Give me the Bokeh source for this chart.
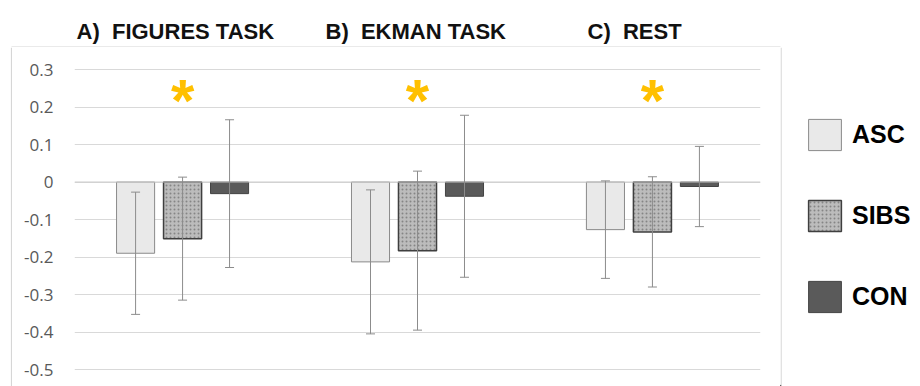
from bokeh.plotting import figure
from bokeh.layouts import column, row
from bokeh.models import (FactorRange, Range1d, Whisker, ColumnDataSource, FixedTicker,
                          Legend, LegendItem, Span, TeeHead)
from bokeh.core.properties import value
from bokeh.embed import file_html
from bokeh.resources import INLINE

# Conditions (panels) and participant groups
panels = ["A", "B", "C"]
panel_titles = ["A)\u00a0 FIGURES TASK", "B)\u00a0 EKMAN TASK", "C)\u00a0 REST"]
groups = ["ASC", "SIBS", "CON"]

# Group means and error-bar half widths per condition
asc_mean = [-0.19, -0.213, -0.127]
asc_err = [0.163, 0.192, 0.13]
sibs_mean = [-0.151, -0.183, -0.133]
sibs_err = [0.164, 0.212, 0.147]
con_mean = [-0.031, -0.038, -0.012]
con_err = [0.197, 0.216, 0.107]

# Conditions with a significant group difference
significant = ["A", "B", "C"]

y_ticks = [-0.5, -0.4, -0.3, -0.2, -0.1, 0, 0.1, 0.2, 0.3]
y_tick_labels = ["-0.5", "-0.4", "-0.3", "-0.2", "-0.1", "0", "0.1", "0.2", "0.3"]

FRAME_GREY = "#d6d6d6"
TITLE_FONT = "Liberation Sans"


def bare(width, height, xr, yr):
    """A figure whose drawing area fills the whole canvas, with no axes or grid."""
    f = figure(width=width, height=height, output_backend="svg", toolbar_location=None,
               x_range=xr, y_range=yr, x_axis_location=None, y_axis_location=None,
               min_border=0)
    f.grid.visible = False
    f.outline_line_color = None
    f.background_fill_color = "white"
    f.border_fill_color = "white"
    return f


# --- header strip with the condition titles and the top edge of the chart box ---
head = bare(920, 47, Range1d(0, 920), Range1d(47, 0))
head.text(x=[76, 325, 587], y=[31, 31, 31], text=panel_titles,
          text_font=value(TITLE_FONT), text_font_style="bold", text_font_size="22px",
          text_color="#111111", text_baseline="alphabetic", text_align="left")
head.segment(x0=[11], y0=[46.5], x1=[780], y1=[46.5], line_color=FRAME_GREY, line_width=1.2)

# --- left edge of the chart box ---
edge = bare(12, 339, Range1d(0, 12), Range1d(0, 339))
edge.segment(x0=[11], y0=[0], x1=[11], y1=[339], line_color=FRAME_GREY, line_width=1.2)

# --- main bar chart ---
factors = [(pn, g) for pn in panels for g in groups]
p = figure(width=768, height=339, output_backend="svg", toolbar_location=None,
           x_range=FactorRange(*factors, factor_padding=0.0, group_padding=2.0,
                               range_padding=0.8, range_padding_units="absolute"),
           y_range=Range1d(-0.5453, 0.3587),
           x_axis_location=None,
           min_border_left=62, min_border_right=20, min_border_top=0, min_border_bottom=0)
p.outline_line_color = None
p.background_fill_color = "white"
p.border_fill_color = "white"
p.xgrid.visible = False
p.ygrid.grid_line_color = "#d9d9d9"
p.ygrid.grid_line_width = 1
p.ygrid.ticker = FixedTicker(ticks=y_ticks)

ax = p.yaxis[0]
ax.ticker = FixedTicker(ticks=y_ticks)
ax.major_label_overrides = dict(zip(y_ticks, y_tick_labels))
ax.axis_line_color = None
ax.major_tick_line_color = None
ax.minor_tick_line_color = None
ax.major_tick_out = 0
ax.major_tick_in = 0
ax.major_label_standoff = 21
ax.major_label_text_font = "Open Sans"
ax.major_label_text_font_size = "17px"
ax.major_label_text_color = "#595959"

p.add_layout(Span(location=0, dimension="width", line_color="#cccccc", line_width=1))

bar_width = 0.81
styles = {
    "ASC": dict(fill_color="#e9e9e9", line_color="#8a8a8a", line_width=1),
    "SIBS": dict(fill_color="#bcbcbc", line_color="#3f3f3f", line_width=1.5,
                 hatch_pattern="dot", hatch_color="#858585", hatch_scale=4, hatch_weight=1.2),
    "CON": dict(fill_color="#5a5a5a", line_color="#444444", line_width=1),
}
series = [("ASC", asc_mean, asc_err), ("SIBS", sibs_mean, sibs_err), ("CON", con_mean, con_err)]

for name, means, errs in series:
    src = ColumnDataSource(dict(
        x=[(pn, name) for pn in panels], top=means, bottom=[0] * len(means),
        upper=[m + e for m, e in zip(means, errs)],
        lower=[m - e for m, e in zip(means, errs)],
    ))
    p.vbar(x="x", top="top", bottom="bottom", width=bar_width, source=src, **styles[name])
    p.add_layout(Whisker(base="x", upper="upper", lower="lower", source=src,
                         line_color="#8c8c8c", line_width=1, level="overlay",
                         upper_head=TeeHead(size=9, line_color="#8c8c8c", line_width=1),
                         lower_head=TeeHead(size=9, line_color="#8c8c8c", line_width=1)))

# Significance markers above each condition
p.text(x=[(pn, "SIBS") for pn in significant], y=[0.217] * len(significant),
       text=["*"] * len(significant), text_align="center", text_baseline="alphabetic",
       text_font=value(TITLE_FONT), text_font_style="bold",
       text_font_size="60px", text_color="#ffc000")

# --- legend column with the right edge of the chart box ---
side = bare(140, 339, Range1d(0, 140), Range1d(0, 339))
side.segment(x0=[0.6], y0=[0], x1=[0.6], y1=[339], line_color=FRAME_GREY, line_width=1.2)
# swatch renderers sit outside the visible range; they only feed the legend
swatches = {g: side.vbar(x=[-500], top=[1], width=1, **styles[g]) for g in groups}
legend = Legend(items=[LegendItem(label=g, renderers=[swatches[g]]) for g in groups],
                location=(24, 70), margin=0, padding=0, spacing=42,
                glyph_width=41, glyph_height=39, label_standoff=7,
                label_text_font=TITLE_FONT, label_text_font_style="bold",
                label_text_font_size="25px", label_text_color="#000000",
                border_line_color=None, background_fill_alpha=0)
side.add_layout(legend, "center")

layout = column(head, row(edge, p, side, spacing=0), spacing=0)
open("out.html", "w").write(file_html(layout, INLINE))
